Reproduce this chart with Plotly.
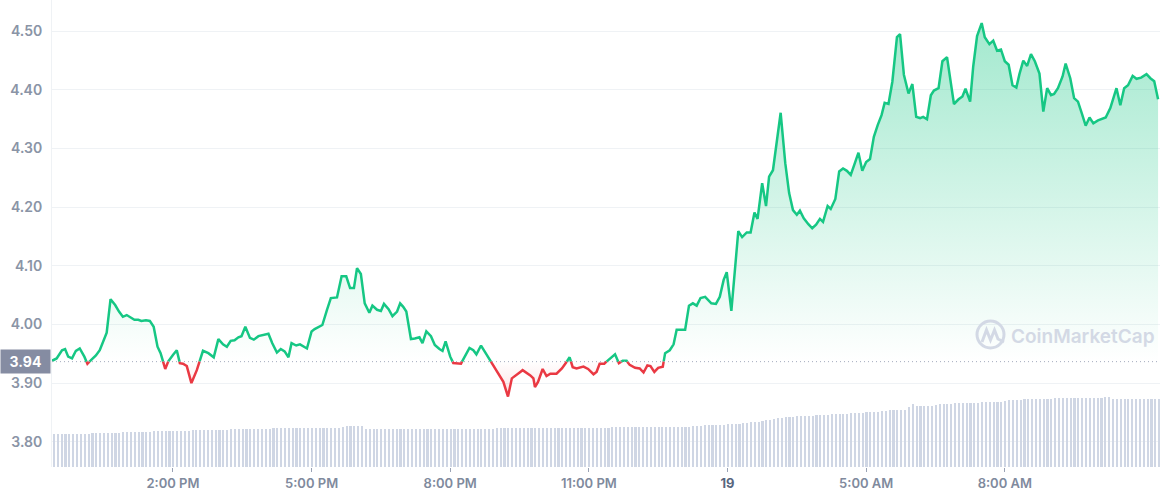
import plotly.graph_objects as go
import pandas as pd

# ---------------- data ----------------
START = "2022-03-18 11:23"
OPEN_PRICE = 3.9365

minutes = [0,6,13,17,21,26,31,36,42,46,52,57,62,67,71,76,82,87,92,97,
           102,107,112,116,122,127,132,137,141,147,151,157,162,166,170,175,181,188,196,203,
           210,216,222,227,232,237,242,246,251,257,262,268,273,281,286,292,297,302,307,311,
           317,322,
           331,337,341,346,351,357,362,370,376,382,387,392,396,401,406,412,416,422,427,431,
           437,442,448,452,456,460,466,471,477,481,486,492,497,503,507,511,517,521,531,536,
           542,547,551,557,562,571,577,586,592,597,608,
           611,621,625,627,631,637,642,647,655,662,667,672,676,681,690,696,703,707,711,717,
           722,731,736,741,746,750,757,763,768,773,777,782,787,793,796,802,807,811,822,827,
           832,837,842,848,856,862,867,872,876,882,891,896,902,907,912,916,922,927,931,936,
           946,952,957,962,967,971,976,982,987,992,997,1001,1007,1011,1017,1022,1027,1032,1037,1042,
           1047,1052,1057,1062,1067,1072,1077,1081,1086,1091,1097,1101,1106,1112,1117,1122,1127,1131,1136,1141,
           1145,1151,1156,1162,1167,1171,1177,1182,1186,1192,1196,1201,1207,1211,1217,1222,1227,1232,1237,1242,
           1247,1252,1256,1261,1266,1271,1276,1282,1287,1292,1297,1301,1306,1312,1316,1322,1327,1332,1337,1342,
           1347,1352,1358,1363,1368,1374,1382,1387,1392,1397,1403,1408,1414,1421,1426,1431,1436]

prices = [3.938,3.942,3.956,3.958,3.945,3.942,3.955,3.959,3.945,3.933,3.941,3.947,3.956,3.974,3.986,4.043,4.033,4.022,4.013,4.016,
          4.012,4.008,4.008,4.006,4.007,4.006,3.996,3.962,3.951,3.924,3.937,3.948,3.956,3.934,3.933,3.929,3.900,3.922,3.955,3.951,
          3.944,3.975,3.966,3.962,3.972,3.973,3.978,3.980,3.996,3.977,3.974,3.980,3.982,3.984,3.968,3.952,3.958,3.954,3.944,3.968,
          3.964,3.966,
          3.959,3.988,3.992,3.995,3.999,4.025,4.045,4.046,4.082,4.082,4.062,4.062,4.096,4.086,4.036,4.020,4.032,4.025,4.023,4.035,
          4.026,4.014,4.022,4.036,4.030,4.022,3.975,3.976,3.978,3.968,3.988,3.980,3.965,3.958,3.955,3.971,3.945,3.934,3.933,3.946,
          3.960,3.956,3.949,3.964,3.954,3.934,3.921,3.902,3.877,3.908,3.919,
          3.922,3.913,3.908,3.893,3.902,3.924,3.912,3.916,3.916,3.925,3.934,3.944,3.927,3.925,3.928,3.924,3.915,3.919,3.933,3.933,
          3.939,3.949,3.934,3.938,3.938,3.931,3.926,3.925,3.918,3.930,3.929,3.919,3.926,3.928,3.951,3.956,3.966,3.991,3.991,4.032,
          4.036,4.032,4.045,4.047,4.036,4.035,4.047,4.076,4.089,4.023,4.159,4.149,4.157,4.157,4.191,4.180,4.241,4.202,4.252,4.263,
          4.361,4.275,4.224,4.195,4.187,4.194,4.181,4.171,4.164,4.170,4.180,4.175,4.202,4.197,4.214,4.261,4.266,4.262,4.255,4.274,
          4.293,4.262,4.277,4.282,4.320,4.340,4.357,4.378,4.376,4.414,4.490,4.495,4.426,4.394,4.410,4.354,4.352,4.354,4.350,4.391,
          4.399,4.403,4.449,4.456,4.414,4.376,4.384,4.389,4.402,4.380,4.440,4.492,4.514,4.490,4.478,4.484,4.467,4.469,4.449,4.443,
          4.408,4.404,4.427,4.450,4.441,4.461,4.449,4.428,4.363,4.403,4.391,4.393,4.403,4.423,4.445,4.420,4.386,4.380,4.360,4.339,
          4.353,4.343,4.348,4.350,4.353,4.369,4.403,4.374,4.403,4.408,4.424,4.419,4.421,4.427,4.420,4.415,4.384]

VOLUME_STEP_MIN = 5
volume = [326,327,327,328,327,327,328,328,329,329,
          338,339,340,340,341,340,341,342,
          351,352,353,353,354,353,354,355,
          360,361,361,362,362,363,362,363,364,364,
          369,369,370,370,371,370,371,371,372,372,
          377,377,378,378,379,378,379,379,380,380,
          385,386,386,387,387,388,387,388,
          388,388,389,389,390,389,390,390,391,391,392,
          405,408,410,411,410,408,
          380,379,379,378,378,377,377,377,376,376,
          376,376,377,377,377,378,378,378,379,379,380,380,381,
          382,382,383,383,383,384,384,384,385,385,385,386,386,
          386,386,387,387,387,388,388,388,389,389,389,390,390,390,390,391,391,391,392,392,392,393,393,393,394,394,
          395,395,396,396,396,397,397,397,398,398,399,399,400,
          401,401,402,402,403,403,404,404,405,405,406,407,
          415,417,418,420,421,422,424,
          428,430,432,434,
          440,443,446,449,452,
          465,470,474,
          485,490,495,
          500,503,505,507,509,
          512,514,515,517,519,
          523,525,527,529,530,
          534,535,537,538,540,542,
          548,551,553,555,558,
          565,567,569,571,573,575,
          605,627,
          610,611,612,613,614,616,
          630,632,633,635,636,637,638,639,640,641,642,
          650,651,652,653,654,655,656,
          672,673,674,675,676,677,677,678,679,680,680,681,
          686,687,687,688,688,689,689,690,690,691,691,692,692,
          700,701,
          683,682,682,681,681,680,680,680,679,679,679,678,678]

y_ticks = [3.80, 3.90, 4.00, 4.10, 4.20, 4.30, 4.40, 4.50]
x_tick_times = ["2022-03-18 14:00", "2022-03-18 17:00", "2022-03-18 20:00", "2022-03-18 23:00",
                "2022-03-19 02:00", "2022-03-19 05:00", "2022-03-19 08:00"]
x_tick_labels = ["2:00 PM", "5:00 PM", "8:00 PM", "11:00 PM",
                 '<span style="color:#58667e"><b>19</b></span>', "5:00 AM", "8:00 AM"]

# ---------------- styling ----------------
GREEN = "#16c784"
RED = "#ea3943"
GRID = "#eff2f5"
TICK_COLOR = "#8a94a6"
VOL_COLOR = "#cfd6e4"
WATERMARK = "#d3d9e5"
Y_RANGE = [3.7568, 4.5534]
VOL_RANGE = [0, 4670]
X_SPAN_MIN = 1438.5
LINE_W = 2.5

t0 = pd.Timestamp(START)
base = OPEN_PRICE

# split line at crossings of the open price
xm, ys = [], []
for i in range(len(prices)):
    if i > 0:
        p0, p1 = prices[i - 1], prices[i]
        if (p0 - base) * (p1 - base) < 0:
            f = (base - p0) / (p1 - p0)
            xm.append(minutes[i - 1] + f * (minutes[i] - minutes[i - 1]))
            ys.append(base)
    xm.append(minutes[i])
    ys.append(prices[i])

times = [t0 + pd.Timedelta(minutes=m) for m in xm]
green_line = [y if y >= base else None for y in ys]
red_line = [y if y <= base else None for y in ys]
green_fill = [max(y, base) for y in ys]
red_fill = [min(y, base) for y in ys]
base_line = [base] * len(ys)

vol_times = [t0 + pd.Timedelta(minutes=VOLUME_STEP_MIN * i + VOLUME_STEP_MIN / 2) for i in range(len(volume))]

fig = go.Figure()

fig.add_trace(go.Bar(x=vol_times, y=volume, marker=dict(color=VOL_COLOR, line=dict(width=0)),
                     width=VOLUME_STEP_MIN * 60 * 1000 * 0.55, yaxis="y", hoverinfo="skip"))

fig.add_trace(go.Scatter(x=times, y=base_line, mode="lines", line=dict(width=0), yaxis="y2", hoverinfo="skip"))
fig.add_trace(go.Scatter(x=times, y=green_fill, mode="lines", line=dict(width=0), yaxis="y2", fill="tonexty",
                         fillgradient=dict(type="vertical", start=base, stop=4.52,
                                           colorscale=[[0, "rgba(22,199,132,0.0)"], [1, "rgba(22,199,132,0.40)"]]),
                         hoverinfo="skip"))
fig.add_trace(go.Scatter(x=times, y=base_line, mode="lines", line=dict(width=0), yaxis="y2", hoverinfo="skip"))
fig.add_trace(go.Scatter(x=times, y=red_fill, mode="lines", line=dict(width=0), yaxis="y2", fill="tonexty",
                         fillgradient=dict(type="vertical", start=3.87, stop=base,
                                           colorscale=[[0, "rgba(234,57,67,0.16)"], [1, "rgba(234,57,67,0.0)"]]),
                         hoverinfo="skip"))
fig.add_trace(go.Scatter(x=times, y=green_line, mode="lines", line=dict(color=GREEN, width=LINE_W),
                         connectgaps=False, yaxis="y2", hoverinfo="skip"))
fig.add_trace(go.Scatter(x=times, y=red_line, mode="lines", line=dict(color=RED, width=LINE_W),
                         connectgaps=False, yaxis="y2", hoverinfo="skip"))

PLOT_L, PLOT_R, PLOT_T, PLOT_B = 52, 1160, 0, 467
W, H = 1161, 500


def px_x(px):
    return (px - PLOT_L) / (PLOT_R - PLOT_L)


def px_y(py):
    return (PLOT_B - py) / (PLOT_B - PLOT_T)


fig.update_layout(
    width=W, height=H,
    margin=dict(l=PLOT_L, r=W - PLOT_R, t=PLOT_T, b=H - PLOT_B, autoexpand=False),
    paper_bgcolor="white", plot_bgcolor="white",
    showlegend=False, hovermode=False,
    font=dict(family="Inter, sans-serif"),
    bargap=0,
    xaxis=dict(type="date", range=[t0, t0 + pd.Timedelta(minutes=X_SPAN_MIN)],
               tickvals=x_tick_times, ticktext=x_tick_labels, automargin=False,
               ticks="outside", ticklen=4, tickwidth=1, tickcolor="#9aa3b5",
               tickfont=dict(size=13, color="#808a9d", weight=600),
               showgrid=False, zeroline=False, showline=False),
    yaxis=dict(range=VOL_RANGE, visible=False, showgrid=False, zeroline=False, automargin=False),
    yaxis2=dict(overlaying="y", side="left", range=Y_RANGE, tickvals=y_ticks, tickformat=".2f",
                showgrid=True, gridcolor=GRID, gridwidth=1, zeroline=False, automargin=False,
                showline=True, linecolor=GRID, linewidth=1, ticks="",
                ticklabelstandoff=6,
                tickfont=dict(size=14, color=TICK_COLOR, weight=600)),
)

# open-price dotted line
fig.add_shape(type="line", xref="paper", yref="y2", x0=0, x1=1, y0=base, y1=base,
              line=dict(color="#a3abbd", width=1, dash="1px,3px"))

# open-price label
fig.add_annotation(xref="paper", yref="y2", x=px_x(51), y=base, xanchor="right", yanchor="middle",
                   text=f"<b>{base:.2f}</b>", showarrow=False, bgcolor="#858ca2",
                   font=dict(color="white", size=14), width=47, height=21, borderpad=1)

# watermark
fig.add_shape(type="circle", xref="paper", yref="paper",
              x0=px_x(977), x1=px_x(1004), y0=px_y(348), y1=px_y(321),
              line=dict(color=WATERMARK, width=3))
pts = [(982, 342), (986.5, 330), (990.5, 340), (994.5, 330), (998, 339), (1004, 342)]
path = "M " + " L ".join(f"{px_x(a):.5f},{px_y(b):.5f}" for a, b in pts)
fig.add_shape(type="path", xref="paper", yref="paper", path=path,
              line=dict(color=WATERMARK, width=3))
fig.add_annotation(xref="paper", yref="paper", x=px_x(1083), y=px_y(336), xanchor="center", yanchor="middle",
                   text="CoinMarketCap", showarrow=False,
                   font=dict(color=WATERMARK, size=19, weight=600))

fig.write_html("out.html", config={"displayModeBar": False, "staticPlot": True},
               post_script="document.body.style.margin='0px';")
